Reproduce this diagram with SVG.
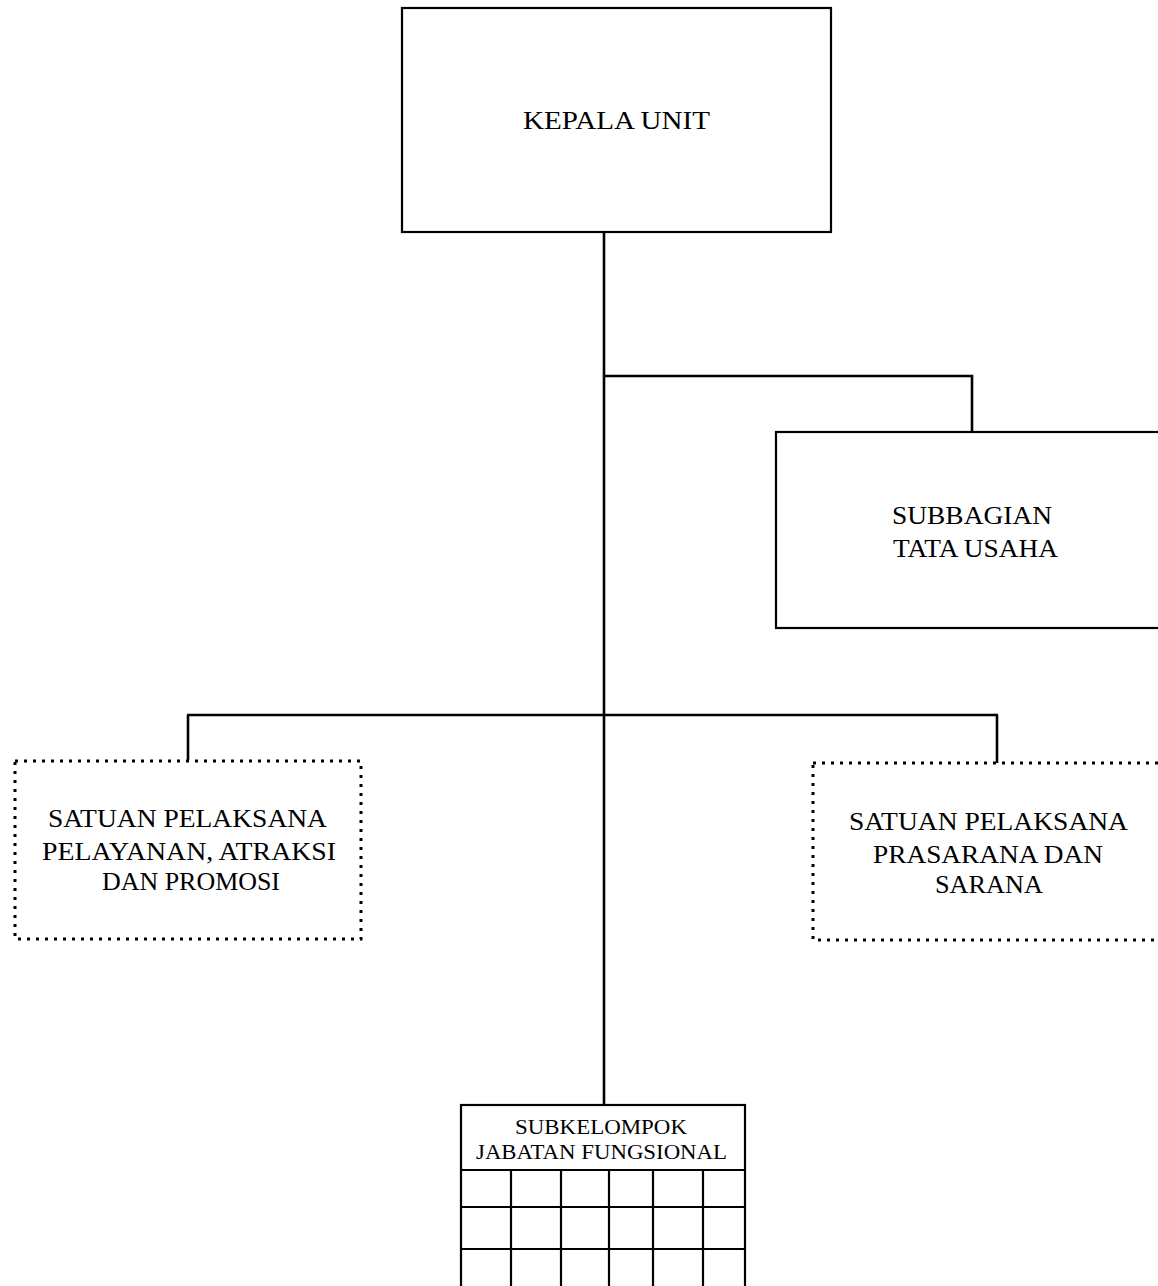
<svg xmlns="http://www.w3.org/2000/svg" width="1158" height="1286" viewBox="0 0 1158 1286">
<style>
.bg{fill:#fff}
.box{fill:none;stroke:#000;stroke-width:2.2}
.dot{fill:none;stroke:#000;stroke-width:3;stroke-dasharray:3 6}
.ln{fill:none;stroke:#000;stroke-width:2.6}
.t{font-family:"Liberation Serif","DejaVu Serif",serif;font-size:26px;fill:#000;text-anchor:middle}
.s{font-family:"Liberation Serif","DejaVu Serif",serif;font-size:20px;fill:#000;text-anchor:middle}
</style>
<rect class="bg" x="0" y="0" width="1158" height="1286"/>
<g id="connectors">
<line class="ln" x1="604" y1="232" x2="604" y2="1106"/>
<polyline class="ln" points="604,376 972,376 972,432"/>
<line class="ln" x1="187" y1="715" x2="998" y2="715"/>
<line class="ln" x1="188" y1="715" x2="188" y2="760"/>
<line class="ln" x1="997" y1="715" x2="997" y2="763"/>
</g>
<g id="kepala-unit">
<rect class="box" x="402" y="8" width="429" height="224"/>
<text class="t" x="616.5" y="129" textLength="187" lengthAdjust="spacingAndGlyphs">KEPALA UNIT</text>
</g>
<g id="subbagian-tata-usaha">
<rect class="box" x="776" y="432" width="400" height="196"/>
<text class="t" x="972" y="524" textLength="160" lengthAdjust="spacingAndGlyphs">SUBBAGIAN</text>
<text class="t" x="975.5" y="557" textLength="165" lengthAdjust="spacingAndGlyphs">TATA USAHA</text>
</g>
<g id="satuan-pelayanan">
<rect class="dot" x="15" y="761" width="346" height="178"/>
<text class="t" x="187.5" y="827" textLength="279" lengthAdjust="spacingAndGlyphs">SATUAN PELAKSANA</text>
<text class="t" x="189" y="860" textLength="294" lengthAdjust="spacingAndGlyphs">PELAYANAN, ATRAKSI</text>
<text class="t" x="191" y="890" textLength="178" lengthAdjust="spacingAndGlyphs">DAN PROMOSI</text>
</g>
<g id="satuan-prasarana">
<rect class="dot" x="813" y="763" width="370" height="177"/>
<text class="t" x="988.5" y="830" textLength="279" lengthAdjust="spacingAndGlyphs">SATUAN PELAKSANA</text>
<text class="t" x="988" y="863" textLength="230" lengthAdjust="spacingAndGlyphs">PRASARANA DAN</text>
<text class="t" x="989" y="893" textLength="108" lengthAdjust="spacingAndGlyphs">SARANA</text>
</g>
<g id="subkelompok-jabatan-fungsional">
<rect class="box" x="461" y="1105" width="284" height="200"/>
<line class="box" x1="461" y1="1170" x2="745" y2="1170"/>
<line class="box" x1="461" y1="1207" x2="745" y2="1207"/>
<line class="box" x1="461" y1="1249" x2="745" y2="1249"/>
<line class="box" x1="511" y1="1170" x2="511" y2="1290"/>
<line class="box" x1="561" y1="1170" x2="561" y2="1290"/>
<line class="box" x1="609" y1="1170" x2="609" y2="1290"/>
<line class="box" x1="653" y1="1170" x2="653" y2="1290"/>
<line class="box" x1="703" y1="1170" x2="703" y2="1290"/>
<text class="s" x="601" y="1134" textLength="172" lengthAdjust="spacingAndGlyphs">SUBKELOMPOK</text>
<text class="s" x="601.5" y="1159" textLength="251" lengthAdjust="spacingAndGlyphs">JABATAN FUNGSIONAL</text>
</g>
</svg>
